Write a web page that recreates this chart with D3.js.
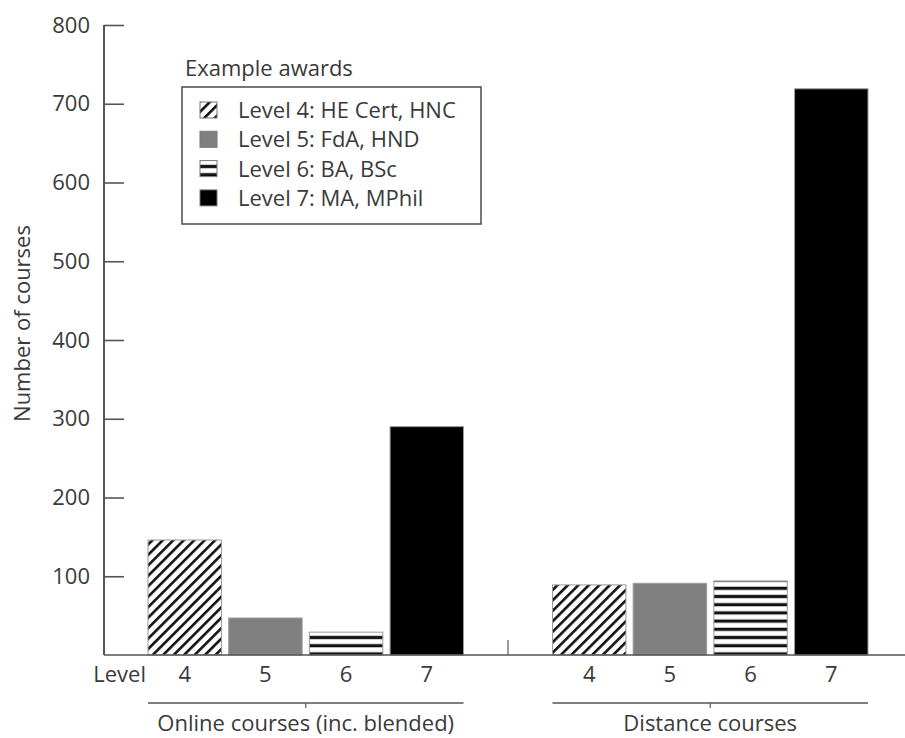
<!DOCTYPE html>
<html>
<head>
<meta charset="utf-8">
<script src="https://cdn.jsdelivr.net/npm/d3@7"></script>
<style>
  html, body { margin: 0; padding: 0; background: #fff; }
  svg text { font-family: "Open Sans", "Noto Sans", sans-serif; fill: #3a3a3a; }
</style>
</head>
<body>
<svg id="chart" width="905" height="738"></svg>
<script>
const groups = ["Online courses (inc. blended)", "Distance courses"];
const levels = ["4", "5", "6", "7"];
const onlineValues = [146, 47, 29, 290];
const distanceValues = [89, 91, 94, 719];
const legendLabels = ["Level 4: HE Cert, HNC", "Level 5: FdA, HND", "Level 6: BA, BSc", "Level 7: MA, MPhil"];
const yTicks = [100, 200, 300, 400, 500, 600, 700, 800];
const legendTitle = "Example awards";
const yTitle = "Number of courses";
const levelLabel = "Level";

const seriesByGroup = [onlineValues, distanceValues];
const data = [];
groups.forEach((g, gi) => levels.forEach((l, li) => data.push({group: g, level: l, value: seriesByGroup[gi][li]})));

const svg = d3.select("#chart");
const fontSize = 22;

// patterns
const defs = svg.append("defs");
const diag = defs.append("pattern").attr("id", "diag").attr("patternUnits", "userSpaceOnUse")
  .attr("width", 7.4).attr("height", 7.4).attr("patternTransform", "rotate(45)");
diag.append("rect").attr("width", 7.4).attr("height", 7.4).attr("fill", "#fff");
diag.append("rect").attr("x", 0).attr("width", 2.6).attr("height", 7.4).attr("fill", "#111");
const horiz = defs.append("pattern").attr("id", "horiz").attr("patternUnits", "userSpaceOnUse")
  .attr("width", 8).attr("height", 8.2).attr("y", 2);
horiz.append("rect").attr("width", 8).attr("height", 8.2).attr("fill", "#fff");
horiz.append("rect").attr("y", 2.5).attr("width", 8).attr("height", 3.2).attr("fill", "#111");

const fills = {"4": "url(#diag)", "5": "#808080", "6": "url(#horiz)", "7": "#000"};

const y = d3.scaleLinear().domain([0, 800]).range([655, 25]);
const x0 = d3.scaleBand().domain(groups).range([148, 868]).paddingInner(0.22);
const x1 = d3.scaleBand().domain(levels).range([0, x0.bandwidth()]).paddingInner(0.09);

// bars
svg.append("g").selectAll("rect").data(data).join("rect")
  .attr("x", d => x0(d.group) + x1(d.level))
  .attr("y", d => y(d.value))
  .attr("width", x1.bandwidth())
  .attr("height", d => y(0) - y(d.value))
  .attr("fill", d => fills[d.level])
  .attr("stroke", "#9a9a9a")
  .attr("stroke-width", 1);

// y axis
const yAxis = d3.axisLeft(y).tickValues(yTicks).tickSize(-20).tickFormat(d3.format("d"));
const yg = svg.append("g").attr("transform", "translate(104,0)").call(yAxis);
yg.select(".domain").remove();
yg.append("line").attr("x1", 0).attr("x2", 0).attr("y1", y(800)).attr("y2", y(0))
  .attr("stroke", "#555").attr("stroke-width", 2);
yg.selectAll(".tick line").attr("stroke", "#555").attr("stroke-width", 1.6);
yg.selectAll(".tick text").attr("font-size", fontSize).attr("fill", "#3a3a3a")
  .attr("font-family", "'Open Sans', sans-serif").attr("x", -14);

// baseline
svg.append("line").attr("x1", 104).attr("x2", 905).attr("y1", y(0)).attr("y2", y(0))
  .attr("stroke", "#555").attr("stroke-width", 1.6);
// small separator tick between groups
const sepX = (x0(groups[0]) + x0.bandwidth() + x0(groups[1])) / 2;
svg.append("line").attr("x1", sepX).attr("x2", sepX).attr("y1", y(0) - 15).attr("y2", y(0))
  .attr("stroke", "#666").attr("stroke-width", 1.3);

// level tick labels
const xg = svg.append("g");
groups.forEach(g => {
  const ax = d3.axisBottom(x1).tickSize(0).tickPadding(0);
  const gg = xg.append("g").attr("transform", `translate(${x0(g)},${y(0)})`).call(ax);
  gg.select(".domain").remove();
  gg.selectAll(".tick text").attr("font-size", fontSize).attr("fill", "#3a3a3a")
    .attr("font-family", "'Open Sans', sans-serif").attr("dy", null).attr("y", 27);
});
svg.append("text").attr("x", 146).attr("y", y(0) + 27).attr("text-anchor", "end")
  .attr("font-size", fontSize).text(levelLabel);

// group brackets
groups.forEach(g => {
  const gx = x0(g), gw = x0.bandwidth(), cx = gx + gw / 2;
  svg.append("line").attr("x1", gx).attr("x2", gx + gw).attr("y1", 703).attr("y2", 703)
    .attr("stroke", "#555").attr("stroke-width", 1.3);
  svg.append("line").attr("x1", cx).attr("x2", cx).attr("y1", 703).attr("y2", 708)
    .attr("stroke", "#555").attr("stroke-width", 1.2);
  svg.append("text").attr("x", cx).attr("y", 731).attr("text-anchor", "middle")
    .attr("font-size", fontSize).text(g);
});

// y title
svg.append("text").attr("transform", `translate(30,${(227 + 420) / 2}) rotate(-90)`)
  .attr("text-anchor", "middle").attr("font-size", fontSize).text(yTitle);

// legend
svg.append("text").attr("x", 185).attr("y", 76).attr("font-size", fontSize).text(legendTitle);
svg.append("rect").attr("x", 182).attr("y", 87).attr("width", 299).attr("height", 137)
  .attr("fill", "#fff").attr("stroke", "#555").attr("stroke-width", 1.6);
const leg = svg.append("g").selectAll("g").data(levels).join("g")
  .attr("transform", (d, i) => `translate(200,${110 + i * 29.3})`);
leg.append("rect").attr("x", 0).attr("y", -8).attr("width", 17).attr("height", 16)
  .attr("fill", d => fills[d]).attr("stroke", "#777").attr("stroke-width", 1);
leg.append("text").attr("x", 38).attr("y", 8).attr("font-size", fontSize)
  .text((d, i) => legendLabels[i]);
</script>
</body>
</html>
